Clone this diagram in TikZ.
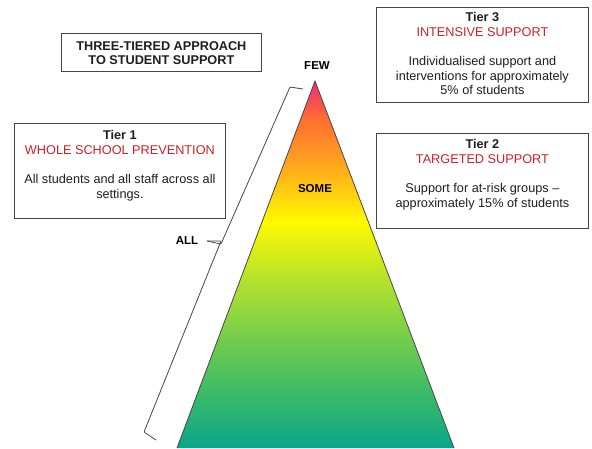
\documentclass[tikz,border=0pt]{standalone}
\usepackage{fontspec}
\setmainfont{Liberation Sans}
\definecolor{tred}{RGB}{204,32,40}
\definecolor{ttxt}{RGB}{30,30,30}
\definecolor{tline}{RGB}{70,70,70}
\definecolor{cA}{RGB}{10,165,138}
\definecolor{cB}{RGB}{53,184,108}
\definecolor{cC}{RGB}{114,204,76}
\definecolor{cD}{RGB}{180,226,44}
\definecolor{cE}{RGB}{255,250,0}
\definecolor{cF}{RGB}{255,160,32}
\definecolor{cG}{RGB}{255,112,48}
\definecolor{cH}{RGB}{238,42,120}
\pgfdeclareverticalshading{pyramid}{100bp}{color(0bp)=(cA); color(25bp)=(cA); color(31.54bp)=(cB); color(39.71bp)=(cC); color(47.89bp)=(cD); color(55.8bp)=(cE); color(64.24bp)=(cF); color(69.69bp)=(cG); color(75bp)=(cH); color(100bp)=(cH)}
\tikzset{
  tbox/.style={draw=tline, line width=0.8pt, rectangle, inner sep=0pt, anchor=north west},
  btxt/.style={inner sep=0pt, align=center, text=ttxt, font=\fontsize{12.7}{14.6}\selectfont, anchor=north},
  ttl/.style={inner sep=0pt, align=center, text=ttxt, font=\fontsize{12.7}{14}\selectfont\bfseries},
  lbl/.style={inner sep=0pt, text=black, font=\fontsize{11.5}{13}\selectfont\bfseries},
  brk/.style={draw=tline, line width=0.8pt, rounded corners=1pt},
  tedge/.style={draw=tline, line width=0.8pt}
}
\begin{document}
\begin{tikzpicture}[x=1pt,y=-1pt]
\useasboundingbox (0,0) rectangle (592,448);
% pyramid
\coordinate (apex) at (315,81);
\coordinate (bl) at (177,448);
\coordinate (br) at (454,448);
\shade[shading=pyramid] (apex) -- (bl) -- (br) -- cycle;
\draw[tedge] (bl) -- (apex) -- (br);
% title
\node[tbox, minimum width=200pt, minimum height=38pt] (title) at (61,33) {};
\node[ttl] (titletxt) at ([yshift=-0.5pt]title.center) {THREE-TIERED APPROACH\\TO STUDENT SUPPORT};
% tier 1
\node[tbox, minimum width=211pt, minimum height=95pt] (t1) at (14,123) {};
\node[btxt] (t1txt) at ([yshift=-7.5pt]t1.north) {\textbf{Tier 1}\\{\color{tred}WHOLE SCHOOL PREVENTION}\\[14.6pt]All students and all staff across all\\settings.};
% tier 3
\node[tbox, minimum width=212pt, minimum height=95pt] (t3) at (376,7) {};
\node[btxt] (t3txt) at ([yshift=-5.5pt]t3.north) {\textbf{Tier 3}\\{\color{tred}INTENSIVE SUPPORT}\\[14.6pt]Individualised support and\\interventions for approximately\\5\% of students};
% tier 2
\node[tbox, minimum width=212pt, minimum height=95pt] (t2) at (376,133) {};
\node[btxt] (t2txt) at ([yshift=-6.5pt]t2.north) {\textbf{Tier 2}\\{\color{tred}TARGETED SUPPORT}\\[14.6pt]Support for at-risk groups --\\approximately 15\% of students};
% labels
\node[lbl] (few) at (317,66) {FEW};
\node[lbl] (some) at (315,189) {SOME};
\node[lbl] (all) at (187,241) {ALL};
% bracket
\coordinate (bt1) at (303,89);
\coordinate (bt2) at (290,87);
\coordinate (bmid) at (221,244);
\coordinate (btip) at (207,241);
\coordinate (bb1) at (144,432);
\coordinate (bb2) at (156,440);
\draw[brk] (bt1) -- (bt2) -- (bmid) -- (btip);
\draw[brk] (btip) -- ([yshift=3pt]bmid) -- (bb1) -- (bb2);
\end{tikzpicture}
\end{document}
